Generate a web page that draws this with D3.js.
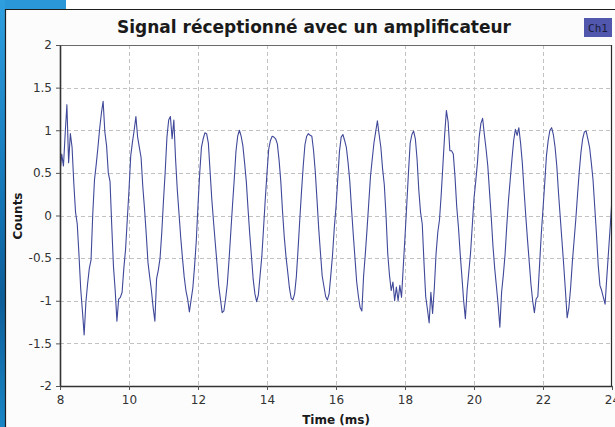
<!DOCTYPE html>
<html>
<head>
<meta charset="utf-8">
<script src="https://cdn.jsdelivr.net/npm/d3@7"></script>
<style>
  html, body { margin: 0; padding: 0; background: #ffffff; }
  svg { display: block; }
</style>
</head>
<body>
<svg id="chart" width="615" height="427"></svg>
<script>
// Oscilloscope capture, channel 1: sampled every 0.05 ms starting at 8 ms.
const sampleStart = 8;
const sampleStep = 0.05;
const ch1Counts = [
  0.50, 0.72, 0.58, 0.96, 1.30, 0.62, 0.96, 0.80, 0.38, 0.04, -0.10, -0.46, -0.86, -1.12, -1.40, -1.02, -0.80, -0.62, -0.52, 0.02,
  0.42, 0.60, 0.80, 1.02, 1.20, 1.34, 0.98, 0.82, 0.50, 0.40, -0.12, -0.60, -0.88, -1.24, -0.98, -0.96, -0.90, -0.62, -0.40, -0.05,
  0.30, 0.70, 0.86, 1.00, 1.16, 0.92, 0.80, 0.68, 0.34, 0.08, -0.22, -0.55, -0.72, -0.88, -1.08, -1.24, -0.74, -0.64, -0.50, -0.20,
  0.18, 0.52, 0.92, 1.12, 1.16, 0.90, 1.12, 0.66, 0.30, 0.02, -0.26, -0.50, -0.72, -0.88, -0.98, -1.13, -0.99, -0.85, -0.60, -0.30,
  0.12, 0.50, 0.80, 0.90, 0.97, 0.96, 0.85, 0.52, 0.19, -0.07, -0.32, -0.56, -0.82, -0.98, -1.14, -1.12, -0.98, -0.80, -0.52, -0.20,
  0.12, 0.42, 0.75, 0.93, 1.00, 0.93, 0.82, 0.62, 0.40, 0.08, -0.22, -0.48, -0.75, -0.92, -1.01, -0.93, -0.70, -0.48, -0.15, 0.19,
  0.50, 0.78, 0.88, 0.93, 0.92, 0.90, 0.84, 0.65, 0.40, 0.05, -0.25, -0.48, -0.66, -0.85, -0.97, -0.99, -0.92, -0.72, -0.40, -0.05,
  0.28, 0.58, 0.83, 0.93, 0.96, 0.94, 0.93, 0.76, 0.51, 0.18, -0.16, -0.44, -0.71, -0.83, -0.95, -0.99, -0.92, -0.70, -0.46, -0.15,
  0.10, 0.42, 0.75, 0.92, 0.95, 0.88, 0.80, 0.62, 0.40, 0.08, -0.22, -0.50, -0.78, -0.95, -1.08, -1.12, -0.71, -0.45, -0.16, 0.15,
  0.46, 0.66, 0.85, 0.98, 1.11, 0.95, 0.80, 0.55, 0.36, 0.00, -0.45, -0.70, -0.88, -0.78, -1.00, -0.84, -1.00, -0.82, -0.96, -0.60,
  -0.25, 0.12, 0.50, 0.85, 0.95, 0.99, 0.90, 0.66, 0.30, 0.04, -0.10, -0.55, -0.95, -1.10, -1.26, -0.90, -1.15, -0.85, -0.45, -0.20,
  -0.05, 0.25, 0.60, 0.95, 1.23, 1.10, 0.76, 0.76, 0.72, 0.45, 0.10, -0.14, -0.45, -0.72, -1.00, -1.21, -0.88, -0.66, -0.44, -0.12,
  0.20, 0.40, 0.62, 0.92, 1.08, 1.14, 0.95, 0.78, 0.58, 0.28, -0.02, -0.36, -0.62, -0.83, -1.05, -1.31, -0.90, -0.70, -0.46, -0.12,
  0.18, 0.42, 0.66, 0.88, 1.01, 0.94, 1.03, 0.85, 0.62, 0.30, 0.00, -0.28, -0.54, -0.80, -1.00, -1.14, -0.98, -0.95, -0.58, -0.22,
  0.08, 0.38, 0.70, 0.88, 1.00, 1.03, 0.95, 0.80, 0.58, 0.26, -0.02, -0.30, -0.58, -0.88, -1.20, -1.08, -0.85, -0.55, -0.30, -0.05,
  0.24, 0.51, 0.74, 0.90, 0.98, 0.99, 0.90, 0.80, 0.62, 0.42, 0.10, -0.22, -0.58, -0.82, -0.88, -0.96, -1.04, -0.72, -0.42, -0.12,
  0.20
];

const xTicks = [8, 10, 12, 14, 16, 18, 20, 22, 24];
const yTicks = [-2, -1.5, -1, -0.5, 0, 0.5, 1, 1.5, 2];
const xDomain = [8, 24];
const yDomain = [-2, 2];

const titleText = "Signal réceptionné avec un amplificateur";
const xLabel = "Time (ms)";
const yLabel = "Counts";
const seriesName = "Ch1";

const svg = d3.select("#chart");
const W = 615, H = 427;
const plot = { left: 60, right: 612, top: 45, bottom: 386 };

// Desktop strip and window frame around the plot window
const defs = svg.append("defs");
const grad = defs.append("linearGradient").attr("id", "desk").attr("x1", 0).attr("y1", 0).attr("x2", 0).attr("y2", 1);
grad.append("stop").attr("offset", "0%").attr("stop-color", "#2f9fe0");
grad.append("stop").attr("offset", "45%").attr("stop-color", "#1477b8");
grad.append("stop").attr("offset", "70%").attr("stop-color", "#0c5d98");
grad.append("stop").attr("offset", "100%").attr("stop-color", "#1a86c6");

svg.append("rect").attr("x", 0).attr("y", 0).attr("width", W).attr("height", H).attr("fill", "#ffffff");
svg.append("rect").attr("x", 0).attr("y", 0).attr("width", 66).attr("height", 9).attr("fill", "#2a98d8");
svg.append("rect").attr("x", 0).attr("y", 0).attr("width", 5).attr("height", H).attr("fill", "url(#desk)");
svg.append("rect").attr("x", 5).attr("y", 9).attr("width", W - 5).attr("height", H - 9).attr("fill", "#fcfcfc");
svg.append("line").attr("x1", 5.5).attr("x2", 5.5).attr("y1", 9).attr("y2", H).attr("stroke", "#1e1e1e").attr("stroke-width", 1.2);
svg.append("line").attr("x1", 5).attr("x2", W).attr("y1", 9.5).attr("y2", 9.5).attr("stroke", "#1e1e1e").attr("stroke-width", 1.2);

const x = d3.scaleLinear().domain(xDomain).range([plot.left, plot.right]);
const y = d3.scaleLinear().domain(yDomain).range([plot.bottom, plot.top]);

// Plot background
svg.append("rect")
  .attr("x", plot.left).attr("y", plot.top)
  .attr("width", plot.right - plot.left).attr("height", plot.bottom - plot.top)
  .attr("fill", "#ffffff");

// Dashed grid
const grid = svg.append("g").attr("stroke", "#c2c2c2").attr("stroke-dasharray", "4,3").attr("stroke-width", 1);
grid.selectAll("line.gx").data(xTicks.slice(1, -1)).join("line")
  .attr("x1", d => Math.round(x(d)) + 0.5).attr("x2", d => Math.round(x(d)) + 0.5)
  .attr("y1", plot.top).attr("y2", plot.bottom);
grid.selectAll("line.gy").data(yTicks.slice(1, -1)).join("line")
  .attr("x1", plot.left).attr("x2", plot.right)
  .attr("y1", d => Math.round(y(d)) + 0.5).attr("y2", d => Math.round(y(d)) + 0.5);

// Signal trace
defs.append("clipPath").attr("id", "plotClip").append("rect")
  .attr("x", plot.left).attr("y", plot.top)
  .attr("width", plot.right - plot.left).attr("height", plot.bottom - plot.top);

const samples = ch1Counts.map((v, i) => ({ t: sampleStart + i * sampleStep, v }));
const line = d3.line().x(d => x(d.t)).y(d => y(d.v));
svg.append("path")
  .datum(samples)
  .attr("clip-path", "url(#plotClip)")
  .attr("fill", "none")
  .attr("stroke", "#3f4899")
  .attr("stroke-width", 1.1)
  .attr("stroke-linejoin", "round")
  .attr("d", line);

// Frame
svg.append("line").attr("x1", plot.left).attr("x2", plot.right).attr("y1", plot.top + 0.5).attr("y2", plot.top + 0.5)
  .attr("stroke", "#6a6a6a").attr("stroke-width", 1);
svg.append("line").attr("x1", plot.right - 0.5).attr("x2", plot.right - 0.5).attr("y1", plot.top).attr("y2", plot.bottom)
  .attr("stroke", "#2a2a2a").attr("stroke-width", 1.2);

const fmt = d => String(d);
const tickFont = "'DejaVu Sans', sans-serif";

const xAxis = svg.append("g")
  .attr("transform", `translate(0,${plot.bottom})`)
  .call(d3.axisBottom(x).tickValues(xTicks).tickFormat(fmt).tickSize(4).tickSizeOuter(0).tickPadding(5));
const yAxis = svg.append("g")
  .attr("transform", `translate(${plot.left},0)`)
  .call(d3.axisLeft(y).tickValues(yTicks).tickFormat(fmt).tickSize(4).tickSizeOuter(0).tickPadding(4));

[xAxis, yAxis].forEach(g => {
  g.select(".domain").attr("stroke", "#333").attr("stroke-width", 1.6);
  g.selectAll(".tick line").attr("stroke", "#555");
  g.selectAll(".tick text")
    .attr("fill", "#333")
    .style("font-family", tickFont)
    .style("font-size", "12px");
});

// Title
svg.append("text")
  .attr("x", 314).attr("y", 33)
  .attr("text-anchor", "middle")
  .style("font-family", tickFont)
  .style("font-weight", "bold")
  .style("font-size", "17px")
  .attr("fill", "#1a1a1a")
  .text(titleText);

// Axis titles
svg.append("text")
  .attr("x", (plot.left + plot.right) / 2).attr("y", 424)
  .attr("text-anchor", "middle")
  .style("font-family", tickFont)
  .style("font-weight", "bold")
  .style("font-size", "12px")
  .attr("fill", "#1a1a1a")
  .text(xLabel);

svg.append("text")
  .attr("transform", `translate(22,216) rotate(-90)`)
  .attr("text-anchor", "middle")
  .style("font-family", tickFont)
  .style("font-weight", "bold")
  .style("font-size", "12px")
  .attr("fill", "#1a1a1a")
  .text(yLabel);

// Legend swatch
const legend = svg.append("g").attr("transform", "translate(584,18)");
legend.append("rect").attr("width", 28).attr("height", 19).attr("fill", "#5057ad");
legend.append("text")
  .attr("x", 14).attr("y", 13.5)
  .attr("text-anchor", "middle")
  .style("font-family", "'DejaVu Sans Mono', monospace")
  .style("font-size", "11px")
  .attr("fill", "#1c1c3a")
  .text(seriesName);
</script>
</body>
</html>
